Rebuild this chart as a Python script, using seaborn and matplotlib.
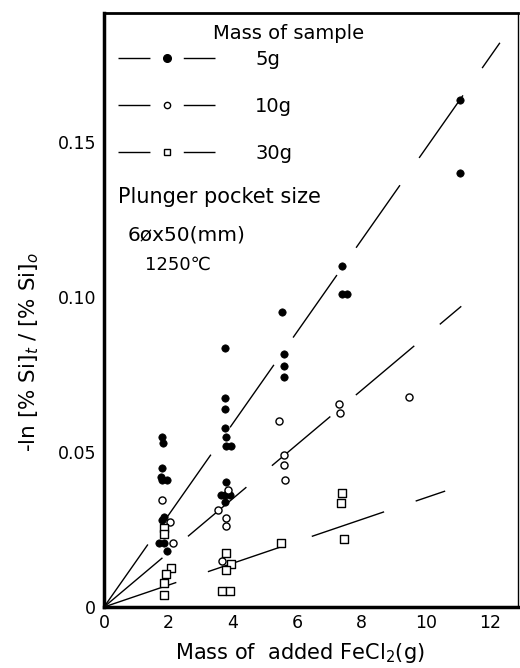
import matplotlib
matplotlib.use("Agg")
import matplotlib.pyplot as plt
from matplotlib.lines import Line2D
import seaborn as sns
import pandas as pd

# ---- data ----
x_5g = [1.80, 1.82, 1.80, 1.78, 1.95, 1.80, 1.85, 1.80, 1.70, 1.85, 1.95,
        3.75, 3.75, 3.75, 3.75, 3.78, 3.78, 3.95, 3.78, 3.62, 3.75, 3.90, 3.75,
        5.53, 5.60, 5.58, 5.60, 7.38, 7.38, 7.55, 11.05, 11.05]
y_5g = [0.055, 0.053, 0.045, 0.042, 0.041, 0.041, 0.029, 0.028, 0.0205, 0.0205, 0.018,
        0.0835, 0.0675, 0.064, 0.0577, 0.055, 0.052, 0.052, 0.0403, 0.036, 0.036, 0.036, 0.034,
        0.095, 0.0816, 0.0777, 0.0742, 0.110, 0.101, 0.101, 0.1635, 0.140]

x_10g = [1.80, 2.05, 2.15, 3.85, 3.54, 3.80, 3.80, 3.66,
         5.43, 5.58, 5.60, 5.62, 7.30, 7.32, 9.47]
y_10g = [0.0345, 0.0275, 0.0205, 0.0377, 0.0313, 0.0287, 0.026, 0.0148,
         0.060, 0.049, 0.0458, 0.041, 0.0655, 0.0625, 0.0677]

x_30g = [1.85, 1.85, 2.08, 1.92, 1.87, 1.87, 3.80, 3.95, 3.80, 3.66, 3.90,
         5.50, 7.40, 7.35, 7.45]
y_30g = [0.0255, 0.0235, 0.0126, 0.0106, 0.0077, 0.0039, 0.0174, 0.0139, 0.012, 0.0052, 0.0052,
         0.0206, 0.0368, 0.0335, 0.022]

series_labels = ["5g", "10g", "30g"]
fit_end_x = [12.3, 11.1, 10.6]
fit_end_y = [0.182, 0.097, 0.0374]

x_ticks = [0, 2, 4, 6, 8, 10, 12]
y_ticks = [0, 0.05, 0.10, 0.15]
y_tick_labels = ["0", "0.05", "0.10", "0.15"]

# ---- style ----
sns.set_theme(style="white")
plt.rcParams["font.family"] = ["DejaVu Sans"]
plt.rcParams["text.color"] = "black"
plt.rcParams["axes.labelcolor"] = "black"
plt.rcParams["legend.labelcolor"] = "black"

fig = plt.figure(figsize=(5.2, 6.68), dpi=100)
ax = fig.add_axes([0.2, 0.0913, 0.796, 0.8892])

# fit lines
for ex, ey in zip(fit_end_x, fit_end_y):
    sns.lineplot(x=[0, ex], y=[0, ey], ax=ax, color="black", lw=1.0,
                 linestyle=(0, (55, 24)), legend=False)

# data points
df5 = pd.DataFrame({"x": x_5g, "y": y_5g})
df10 = pd.DataFrame({"x": x_10g, "y": y_10g})
df30 = pd.DataFrame({"x": x_30g, "y": y_30g})
sns.scatterplot(data=df5, x="x", y="y", ax=ax, marker="o", s=28,
                color="black", edgecolor="black", linewidth=0.5, zorder=3)
sns.scatterplot(data=df10, x="x", y="y", ax=ax, marker="o", s=26,
                facecolor="white", edgecolor="black", linewidth=1.0, zorder=3)
sns.scatterplot(data=df30, x="x", y="y", ax=ax, marker="s", s=26,
                facecolor="white", edgecolor="black", linewidth=1.0, zorder=3)

ax.set_xlim(0, 12.86)
ax.set_ylim(0, 0.1916)
ax.set_xticks(x_ticks)
ax.set_xticklabels([str(t) for t in x_ticks])
ax.set_yticks(y_ticks)
ax.set_yticklabels(y_tick_labels)
ax.tick_params(axis="x", direction="in", length=5, width=2, pad=5,
               labelsize=12.5, colors="black")
ax.tick_params(axis="y", direction="out", length=4, width=2, pad=1.5,
               labelsize=12.5, colors="black")

for side, lw in [("left", 2.5), ("bottom", 2.5), ("top", 2.0), ("right", 1.0)]:
    ax.spines[side].set_visible(True)
    ax.spines[side].set_linewidth(lw)
    ax.spines[side].set_color("black")

ax.set_xlabel(r"Mass of  added FeCl$_2$(g)", fontsize=15, color="black")
ax.set_ylabel(r"-ln [% Si]$_t$ / [% Si]$_o$", fontsize=15.5, color="black")
ax.xaxis.set_label_coords(0.473, -0.058)
ax.yaxis.set_label_coords(-0.152, 0.43)

# legend
handles = [
    Line2D([], [], color="black", lw=1.0, linestyle=(0, (23, 24)), marker="o",
           markerfacecolor="black", markeredgecolor="black", markersize=5.5),
    Line2D([], [], color="black", lw=1.0, linestyle=(0, (23, 24)), marker="o",
           markerfacecolor="white", markeredgecolor="black", markersize=4.5,
           markeredgewidth=1.0),
    Line2D([], [], color="black", lw=1.0, linestyle=(0, (23, 24)), marker="s",
           markerfacecolor="white", markeredgecolor="black", markersize=4.5,
           markeredgewidth=1.0),
]
ax.legend(handles=handles, labels=series_labels, loc="upper left",
          bbox_to_anchor=(0.034, 0.938), frameon=False, borderpad=0,
          borderaxespad=0, handlelength=5.0, handletextpad=2.05,
          labelspacing=1.45, numpoints=1, fontsize=14)

ax.text(0.263, 0.966, "Mass of sample", transform=ax.transAxes,
        ha="left", va="center", fontsize=14)
ax.text(0.034, 0.690, "Plunger pocket size", transform=ax.transAxes,
        ha="left", va="center", fontsize=15)
ax.text(0.058, 0.626, "6øx50(mm)", transform=ax.transAxes,
        ha="left", va="center", fontsize=14.5)
ax.text(0.099, 0.576, "1250℃", transform=ax.transAxes,
        ha="left", va="center", fontsize=13)

fig.savefig("out.png", dpi=100)
